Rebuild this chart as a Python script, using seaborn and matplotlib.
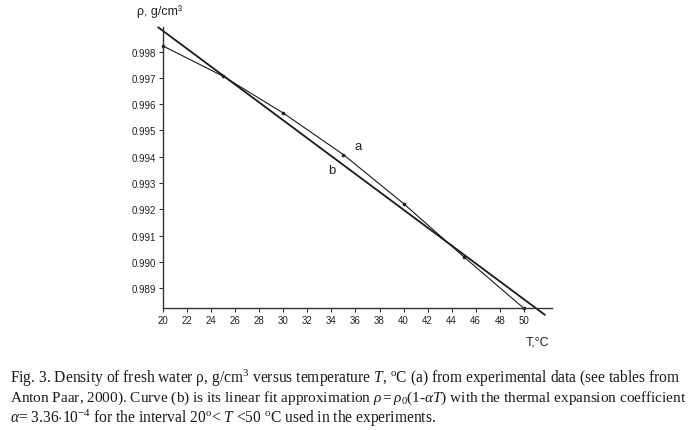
import matplotlib
matplotlib.use("Agg")
import matplotlib.pyplot as plt
import seaborn as sns
import pandas as pd

# --- Data ---
temp_c = [20, 25, 30, 35, 40, 45, 50]
density = [0.99821, 0.99706, 0.99566, 0.99408, 0.99222, 0.99020, 0.98824]

# linear fit (curve b), end points as drawn
fit_temp = [19.6, 51.75]
fit_density = [0.99892, 0.98799]

x_ticks = list(range(20, 51, 2))
y_ticks = [0.989, 0.990, 0.991, 0.992, 0.993, 0.994, 0.995, 0.996, 0.997, 0.998]

CAPTION = [
    r"Fig. 3. Density of fresh water ρ, g/cm$^3$ versus temperature $\mathit{T}$, $^\mathrm{o}$C (a) from experimental data (see tables from",
    r"Anton Paar, 2000). Curve (b) is its linear fit approximation $\mathit{\rho = \rho_0(1\text{-}\alpha T)}$ with the thermal expansion coefficient",
    r"$\alpha$= 3.36$\cdot$10$^{-4}$ for the interval 20$^\mathrm{o}$< $\mathit{T}$ <50 $^\mathrm{o}$C used in the experiments.",
]
CAPTION_SIZES = [11.2, 11.0, 11.2]

sns.set_style("ticks")
plt.rcParams["font.family"] = ["Liberation Sans", "DejaVu Sans"]
plt.rcParams["mathtext.fontset"] = "custom"
plt.rcParams["mathtext.rm"] = "Liberation Serif"
plt.rcParams["mathtext.it"] = "Liberation Serif:italic"

df_a = pd.DataFrame({"T": temp_c, "rho": density})
df_b = pd.DataFrame({"T": fit_temp, "rho": fit_density})

fig = plt.figure(figsize=(6.91, 4.31), dpi=100)
ax = fig.add_axes([163 / 691, 1 - 309.3 / 431, 389 / 691, 281 / 431])

sns.lineplot(data=df_a, x="T", y="rho", ax=ax, color="#1a1a1a", linewidth=0.8,
             marker="o", markersize=2.6, markeredgewidth=0, clip_on=False)
sns.lineplot(data=df_b, x="T", y="rho", ax=ax, color="#1a1a1a", linewidth=1.3,
             clip_on=False)

ax.set_xlim(20, 52.34)
ax.set_ylim(0.98824, 0.99892)
ax.set_xticks(x_ticks)
ax.set_yticks(y_ticks)
ax.set_yticklabels([f"{v:.3f}" for v in y_ticks])
ax.tick_params(axis="both", labelsize=7, length=3, width=0.8, color="#333333",
               labelcolor="#222222", pad=2)
ax.set_xlabel("")
ax.set_ylabel("")
sns.despine(ax=ax)
for side in ("left", "bottom"):
    ax.spines[side].set_linewidth(1.0)
    ax.spines[side].set_color("#333333")

ax.text(35.9, 0.99428, "a", fontsize=9.5, color="#222222")
ax.text(33.7, 0.99338, "b", fontsize=9.5, color="#222222")

fig.text(137 / 691, 1 - 12 / 431, "ρ, g/cm³", fontsize=9, color="#222222",
         va="center", ha="left")
fig.text(549 / 691, 1 - 343 / 431, "T,°C", fontsize=9, color="#222222",
         va="center", ha="right")

for i, (line, size) in enumerate(zip(CAPTION, CAPTION_SIZES)):
    fig.text(10 / 691, 1 - (378 + 20 * i) / 431, line, fontsize=size,
             family="Liberation Serif", color="#1a1a1a", va="center", ha="left")

fig.savefig("out.png", dpi=100)
